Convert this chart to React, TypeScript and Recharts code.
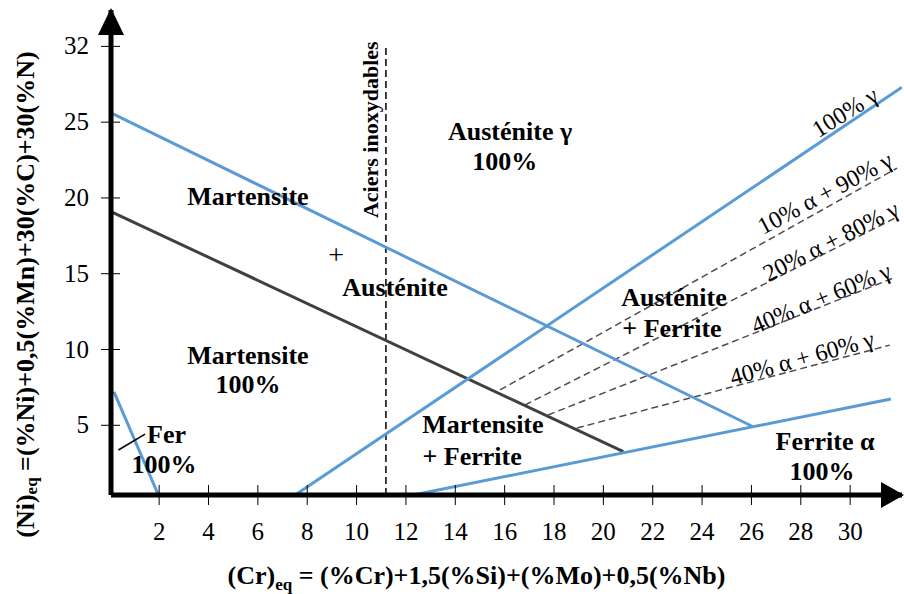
import React from "react";
import { LineChart, Line, XAxis, YAxis, ReferenceDot } from "recharts";

const serif = "'Liberation Serif', 'Times New Roman', serif";

const xTicks = [2, 4, 6, 8, 10, 12, 14, 16, 18, 20, 22, 24, 26, 28, 30];
const yTicks = [5, 10, 15, 20, 25, 30];
const yTickLabels = ["5", "10", "15", "20", "25", "32"];

// phase boundaries (Cr eq, Ni eq)
const austeniteLimit = [{ x: 0.09, y: 25.58 }, { x: 26.05, y: 4.92 }];
const martensiteLimit = [{ x: 0.09, y: 19.07 }, { x: 20.81, y: 3.26 }];
const gamma100 = [{ x: 7.51, y: 0.4 }, { x: 32.1, y: 27.3 }];
const ferriteLimit = [{ x: 12.29, y: 0.4 }, { x: 31.65, y: 6.73 }];
const ferLimit = [{ x: 0.17, y: 7.21 }, { x: 1.97, y: 0.4 }];
const ferPointer = [{ x: 0.35, y: 3.37 }, { x: 1.43, y: 4.42 }];
const stainless = [{ x: 11.19, y: 0.4 }, { x: 11.19, y: 30.08 }];

// iso-ferrite lines
const ferrite10 = [{ x: 15.81, y: 7.33 }, { x: 31.9, y: 21.97 }];
const ferrite20 = [{ x: 16.82, y: 6.34 }, { x: 31.9, y: 18.74 }];
const ferrite40a = [{ x: 17.76, y: 5.68 }, { x: 31.74, y: 14.71 }];
const ferrite40b = [{ x: 18.93, y: 4.82 }, { x: 31.61, y: 10.29 }];

const regionTexts = ["Austénite γ", "100%", "Martensite", "+", "Austénite", "Martensite", "100%", "Fer", "100%", "Martensite", "+ Ferrite", "Austénite", "+ Ferrite", "Ferrite α", "100%"];
const regionAt = [
  [16.22, 24.4], [16.0, 22.4], [5.6, 20.1], [9.17, 16.3], [11.56, 14.1],
  [5.6, 9.6], [5.6, 7.66], [2.3, 4.42], [2.2, 2.44], [15.12, 5.08],
  [14.68, 2.97], [22.86, 13.46], [22.78, 11.4], [28.98, 3.96], [28.86, 1.98],
];

const lineTexts = ["100% γ", "10% α + 90% γ", "20% α + 80% γ", "40% α + 60% γ", "40% α + 60% γ"];
const lineTextAt = [[29.79, 25.66, -32], [28.98, 20.32, -28], [29.22, 17.15, -27], [28.82, 13.39, -22.5], [28.05, 9.44, -15.5]];

const XTick = (props: any) => {
  const { x, y, payload } = props;
  return (
    <g>
      <line x1={x} x2={x} y1={y - 10} y2={y + 10} stroke="#000" strokeWidth={1} />
      <text x={x} y={y + 45} textAnchor="middle" fontFamily={serif} fontSize={25} fill="#000">
        {payload.value}
      </text>
    </g>
  );
};

const YTick = (props: any) => {
  const { x, y, payload } = props;
  const i = yTicks.indexOf(payload.value);
  return (
    <g>
      <line x1={x - 10} x2={x + 9} y1={y} y2={y} stroke="#000" strokeWidth={1} />
      <text x={x - 22} y={y + 8} textAnchor="end" fontFamily={serif} fontSize={25} fill="#000">
        {yTickLabels[i]}
      </text>
    </g>
  );
};

const XTitle = (props: any) => {
  const vb = props.viewBox;
  return (
    <text x={vb.x + vb.width / 2 - 30} y={vb.y + 89} textAnchor="middle" fontFamily={serif} fontSize={26} fontWeight="bold" fill="#000">
      (Cr)<tspan fontSize={17} dy={6}>eq</tspan>
      <tspan dy={-6}> = (%Cr)+1,5(%Si)+(%Mo)+0,5(%Nb)</tspan>
    </text>
  );
};

const YTitle = (props: any) => {
  const vb = props.viewBox;
  const cx = vb.x - 26;
  const cy = vb.y + vb.height / 2 + 42;
  return (
    <text x={cx} y={cy} transform={`rotate(-90 ${cx} ${cy})`} textAnchor="middle" dominantBaseline="central" fontFamily={serif} fontSize={26} fontWeight="bold" fill="#000">
      (Ni)<tspan fontSize={17} dy={6}>eq</tspan>
      <tspan dy={-6}> =(%Ni)+0,5(%Mn)+30(%C)+30(%N)</tspan>
    </text>
  );
};

const seg = (data: any[], stroke: string, width: number, dash?: string) => (
  <Line
    data={data}
    dataKey="y"
    type="linear"
    stroke={stroke}
    strokeWidth={width}
    strokeDasharray={dash}
    dot={false}
    activeDot={false}
    isAnimationActive={false}
  />
);

export default function App() {
  return (
    <div style={{ position: "absolute", left: 0, top: 0, width: 904, height: 594, background: "#fff" }}>
      <LineChart width={904} height={594} margin={{ top: 10, right: 2, bottom: 39, left: 51 }}>
        <XAxis
          dataKey="x"
          type="number"
          domain={[0.05, 32.1]}
          allowDataOverflow
          ticks={xTicks}
          tick={<XTick />}
          tickLine={false}
          tickSize={0}
          tickMargin={0}
          height={60}
          axisLine={{ stroke: "#000", strokeWidth: 5 }}
          label={{ content: <XTitle /> }}
        />
        <YAxis
          type="number"
          domain={[0.4, 32.4]}
          allowDataOverflow
          ticks={yTicks}
          tick={<YTick />}
          tickLine={false}
          tickSize={0}
          tickMargin={0}
          width={60}
          axisLine={{ stroke: "#000", strokeWidth: 5 }}
          label={{ content: <YTitle /> }}
        />
        {seg(stainless, "#000", 1.5, "7 4")}
        {seg(ferrite10, "#4d4d4d", 1.5, "7 4")}
        {seg(ferrite20, "#4d4d4d", 1.5, "7 4")}
        {seg(ferrite40a, "#4d4d4d", 1.5, "7 4")}
        {seg(ferrite40b, "#4d4d4d", 1.5, "7 4")}
        {seg(martensiteLimit, "#404040", 3)}
        {seg(austeniteLimit, "#5b9bd5", 3)}
        {seg(gamma100, "#5b9bd5", 3)}
        {seg(ferriteLimit, "#5b9bd5", 3)}
        {seg(ferLimit, "#5b9bd5", 3)}
        {seg(ferPointer, "#000", 1.5)}
        <ReferenceDot
          x={32.1}
          y={0.4}
          r={0}
          ifOverflow="visible"
          shape={(p: any) => (
            <polygon points={`${p.cx + 2},${p.cy} ${p.cx - 21},${p.cy - 13} ${p.cx - 21},${p.cy + 13}`} fill="#000" />
          )}
        />
        <ReferenceDot
          x={0.05}
          y={32.4}
          r={0}
          ifOverflow="visible"
          shape={(p: any) => (
            <polygon points={`${p.cx},${p.cy - 2} ${p.cx - 13},${p.cy + 25} ${p.cx + 13},${p.cy + 25}`} fill="#000" />
          )}
        />
        <ReferenceDot
          x={10.55}
          y={24.5}
          r={0}
          ifOverflow="visible"
          shape={(p: any) => (
            <text x={p.cx} y={p.cy} transform={`rotate(-90 ${p.cx} ${p.cy})`} textAnchor="middle" dominantBaseline="central" fontFamily={serif} fontSize={22} fontWeight="bold" fill="#000">
              Aciers inoxydables
            </text>
          )}
        />
        {regionTexts.map((t, i) => (
          <ReferenceDot
            key={"r" + i}
            x={regionAt[i][0]}
            y={regionAt[i][1]}
            r={0}
            ifOverflow="visible"
            shape={(p: any) => (
              <text x={p.cx} y={p.cy} textAnchor="middle" dominantBaseline="central" fontFamily={serif} fontSize={t === "+" ? 28 : 26} fontWeight={t === "+" ? "normal" : "bold"} fill="#000">
                {t}
              </text>
            )}
          />
        ))}
        {lineTexts.map((t, i) => (
          <ReferenceDot
            key={"l" + i}
            x={lineTextAt[i][0]}
            y={lineTextAt[i][1]}
            r={0}
            ifOverflow="visible"
            shape={(p: any) => (
              <text x={p.cx} y={p.cy} transform={`rotate(${lineTextAt[i][2]} ${p.cx} ${p.cy})`} textAnchor="middle" dominantBaseline="central" fontFamily={serif} fontSize={24} fill="#000">
                {t}
              </text>
            )}
          />
        ))}
      </LineChart>
    </div>
  );
}
